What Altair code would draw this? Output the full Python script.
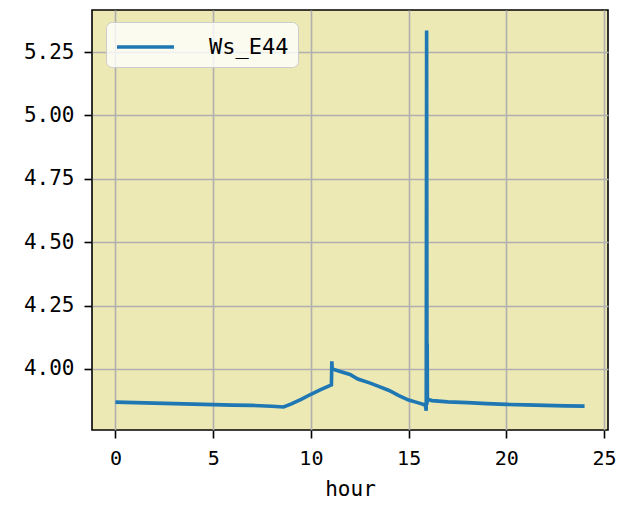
import altair as alt
import pandas as pd

hours = [0.0, 1.0, 2.0, 3.0, 4.0, 5.0, 6.0, 7.0, 8.0, 8.6,
         9.0, 9.5, 10.0, 10.5, 11.05, 11.07, 11.09, 11.5, 12.0, 12.4,
         13.0, 13.5, 14.0, 14.5, 15.0, 15.5, 15.85, 15.9, 15.92, 15.94,
         15.95, 15.96, 16.2, 17.0, 18.0, 19.0, 20.0, 21.0, 22.0, 23.0, 24.0]
ws_e44 = [3.869, 3.867, 3.865, 3.863, 3.861, 3.859, 3.857, 3.856, 3.853, 3.850,
          3.862, 3.880, 3.900, 3.918, 3.937, 4.030, 4.000, 3.990, 3.978, 3.960,
          3.945, 3.930, 3.915, 3.895, 3.877, 3.866, 3.858, 3.835, 5.335, 3.860,
          4.100, 3.880, 3.875, 3.870, 3.867, 3.863, 3.860, 3.858, 3.856, 3.854, 3.853]
series_name = "Ws_E44"

df = pd.DataFrame({"hour": hours, "value": ws_e44, "series": series_name})

FONT = "DejaVu Sans Mono"
BLUE = "#1f77b4"

chart = alt.Chart(df).mark_line(strokeWidth=3.6, color=BLUE).encode(
    x=alt.X("hour:Q", title="hour",
            scale=alt.Scale(domain=[-1.2, 25.2], nice=False, zero=False),
            axis=alt.Axis(values=[0, 5, 10, 15, 20, 25], format="d", labelFontSize=20)),
    y=alt.Y("value:Q", title=None,
            scale=alt.Scale(domain=[3.759, 5.416], nice=False, zero=False),
            axis=alt.Axis(values=[4.0, 4.25, 4.5, 4.75, 5.0, 5.25], format=".2f")),
    color=alt.Color("series:N", scale=alt.Scale(domain=[series_name], range=[BLUE]),
                    legend=alt.Legend(title=None, orient="none", legendX=14, legendY=12,
                                      symbolType="M -1 0 L 3.07 0", symbolSize=784,
                                      symbolStrokeWidth=3.6, symbolStrokeColor=BLUE,
                                      labelFont=FONT, labelFontSize=22, labelColor="black",
                                      labelOffset=62, padding=9,
                                      fillColor="rgba(255,255,255,0.8)", strokeColor="#cccccc",
                                      cornerRadius=6)),
).properties(
    width=516, height=420,
    autosize=alt.AutoSizeParams(type="none"),
    padding={"left": 84, "top": 2, "right": 9, "bottom": 76},
).configure_view(
    fill="#ECE9B4", stroke="black", strokeWidth=1.6
).configure_axis(
    grid=True, gridColor="#b0b0b0", gridWidth=1.6,
    domain=False, tickColor="black", tickSize=8, tickWidth=1.6,
    labelFont=FONT, labelFontSize=21, labelColor="black",
    titleFont=FONT, titleFontSize=21, titleColor="black", titleFontWeight="normal",
    labelPadding=10,
).configure_axisX(titlePadding=10)

chart.save("out.html", embed_options={"renderer": "svg", "actions": False})
